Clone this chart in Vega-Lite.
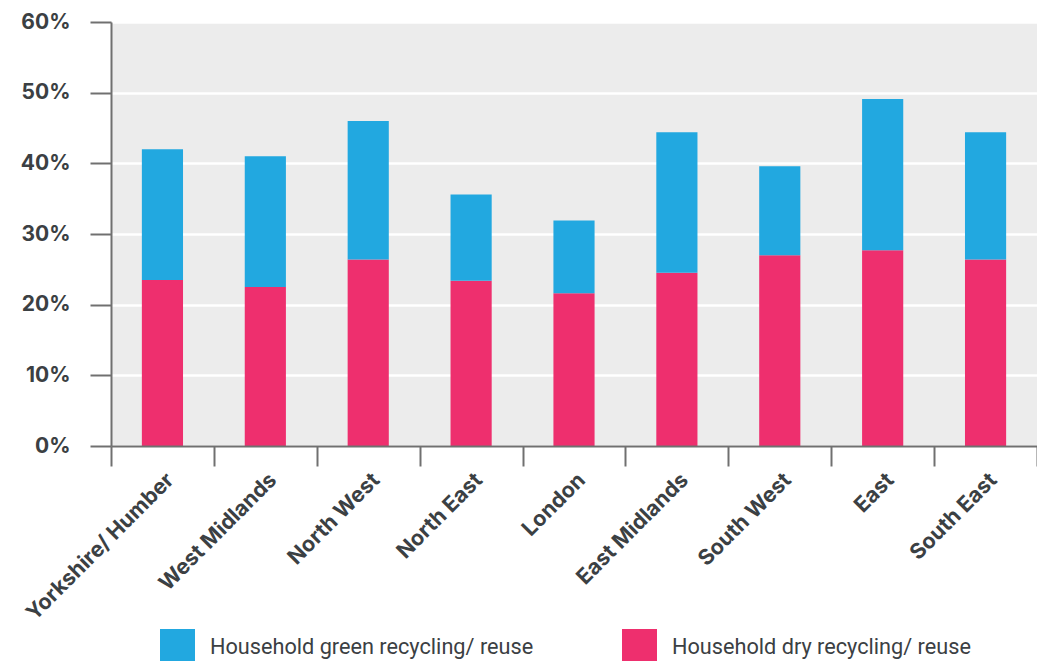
{
  "$schema": "https://vega.github.io/schema/vega-lite/v6.json",
  "autosize": {"type": "none"},
  "width": 926,
  "height": 424,
  "padding": {"left": 111, "top": 22, "right": 0, "bottom": 215},
  "background": "#ffffff",
  "config": {
    "view": {"fill": "#ececec", "stroke": null},
    "axis": {"labelColor": "#3b4043", "domainColor": "#707070", "tickColor": "#707070"}
  },
  "data": {
    "values": [
      {"region": "Yorkshire/ Humber", "type": "Household dry recycling/ reuse", "value": 23.5},
      {"region": "Yorkshire/ Humber", "type": "Household green recycling/ reuse", "value": 18.5},
      {"region": "West Midlands", "type": "Household dry recycling/ reuse", "value": 22.5},
      {"region": "West Midlands", "type": "Household green recycling/ reuse", "value": 18.5},
      {"region": "North West", "type": "Household dry recycling/ reuse", "value": 26.4},
      {"region": "North West", "type": "Household green recycling/ reuse", "value": 19.6},
      {"region": "North East", "type": "Household dry recycling/ reuse", "value": 23.4},
      {"region": "North East", "type": "Household green recycling/ reuse", "value": 12.2},
      {"region": "London", "type": "Household dry recycling/ reuse", "value": 21.6},
      {"region": "London", "type": "Household green recycling/ reuse", "value": 10.3},
      {"region": "East Midlands", "type": "Household dry recycling/ reuse", "value": 24.5},
      {"region": "East Midlands", "type": "Household green recycling/ reuse", "value": 19.9},
      {"region": "South West", "type": "Household dry recycling/ reuse", "value": 27.0},
      {"region": "South West", "type": "Household green recycling/ reuse", "value": 12.6},
      {"region": "East", "type": "Household dry recycling/ reuse", "value": 27.7},
      {"region": "East", "type": "Household green recycling/ reuse", "value": 21.4},
      {"region": "South East", "type": "Household dry recycling/ reuse", "value": 26.4},
      {"region": "South East", "type": "Household green recycling/ reuse", "value": 18.0}
    ]
  },
  "mark": {"type": "bar", "width": {"band": 0.4}},
  "encoding": {
    "x": {
      "field": "region",
      "type": "nominal",
      "sort": null,
      "scale": {"paddingInner": 0, "paddingOuter": 0},
      "axis": {
        "title": null,
        "labelAngle": -45,
        "labelFont": "Inter",
        "labelFontWeight": "bold",
        "labelFontSize": 21.5,
        "labelPadding": 3,
        "labelLimit": 400,
        "tickSize": 20,
        "tickWidth": 2,
        "domainWidth": 2,
        "tickBand": "extent",
        "grid": false,
        "zindex": 1
      }
    },
    "y": {
      "field": "value",
      "type": "quantitative",
      "stack": "zero",
      "scale": {"domain": [0, 60], "nice": false},
      "axis": {
        "title": null,
        "values": [0, 10, 20, 30, 40, 50, 60],
        "labelExpr": "datum.value + '%'",
        "labelFont": "Inter",
        "labelFontWeight": "bold",
        "labelFontSize": 21,
        "labelPadding": 20,
        "tickSize": 21,
        "tickWidth": 2,
        "domainWidth": 2,
        "grid": true,
        "gridColor": "#ffffff",
        "gridWidth": 2.5,
        "gridOpacity": 1
      }
    },
    "color": {
      "field": "type",
      "type": "nominal",
      "scale": {
        "domain": ["Household green recycling/ reuse", "Household dry recycling/ reuse"],
        "range": ["#22a8e0", "#ee2f6e"]
      },
      "legend": {
        "title": null,
        "orient": "none",
        "direction": "horizontal",
        "legendX": 49,
        "legendY": 607,
        "padding": 0,
        "symbolType": "square",
        "symbolSize": 1225,
        "symbolStrokeWidth": 0,
        "symbolOpacity": 1,
        "labelFont": "Roboto",
        "labelFontSize": 21.7,
        "labelColor": "#3b4043",
        "labelOffset": 15,
        "labelLimit": 400,
        "columnPadding": 88
      }
    },
    "order": {"field": "type", "sort": "ascending"}
  }
}
